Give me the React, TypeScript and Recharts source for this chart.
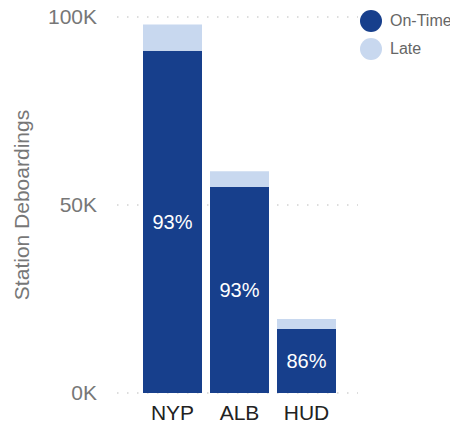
import { BarChart, Bar, XAxis, YAxis, CartesianGrid, Legend, LabelList } from 'recharts';

const stations = ['NYP', 'ALB', 'HUD'];
const onTime = [91000, 54800, 17000];
const late = [7000, 4200, 2700];
const yTicks = [0, 50000, 100000];

const ON_TIME_COLOR = '#173F8C';
const LATE_COLOR = '#C8D8EF';
const FONT = '"Liberation Sans", Arial, sans-serif';

const data = stations.map((s, i) => ({
  station: s,
  onTime: onTime[i],
  late: late[i],
  pct: Math.round((onTime[i] / (onTime[i] + late[i])) * 100) + '%',
}));

const legendItems = [
  { name: 'On-Time', color: ON_TIME_COLOR },
  { name: 'Late', color: LATE_COLOR },
];

function LegendContent() {
  return (
    <div style={{ fontFamily: FONT, fontSize: 16, color: '#666' }}>
      {legendItems.map((it) => (
        <div key={it.name} style={{ display: 'flex', alignItems: 'center', height: 28, whiteSpace: 'nowrap' }}>
          <svg width={22} height={22} style={{ marginRight: 8, flexShrink: 0 }}>
            <circle cx={11} cy={11} r={11} fill={it.color} />
          </svg>
          <span>{it.name}</span>
        </div>
      ))}
    </div>
  );
}

export default function App() {
  return (
    <div style={{ position: 'absolute', left: 0, top: 0, width: 450, height: 428, overflow: 'hidden' }}>
      <BarChart
        width={450}
        height={428}
        data={data}
        margin={{ top: 17, right: 92, bottom: 0, left: 0 }}
        barCategoryGap={4}
      >
        <CartesianGrid vertical={false} stroke="#bbb" strokeDasharray="1.5 8.5" />
        <XAxis
          dataKey="station"
          height={35}
          padding={{ left: 22, right: 18 }}
          axisLine={false}
          tickLine={false}
          tickSize={0}
          tickMargin={12}
          tick={{ fill: '#222', fontSize: 21, fontFamily: FONT }}
        />
        <YAxis
          width={117}
          domain={[0, 100000]}
          ticks={yTicks}
          interval={0}
          axisLine={false}
          tickLine={false}
          tickSize={0}
          tickMargin={20}
          tickFormatter={(v: number) => `${v / 1000}K`}
          tick={{ fill: '#777', fontSize: 21, fontFamily: FONT }}
          label={{
            value: 'Station Deboardings',
            angle: -90,
            position: 'insideLeft',
            dx: 17,
            style: { textAnchor: 'middle', fill: '#777', fontSize: 21, fontFamily: FONT },
          }}
        />
        <Legend
          content={<LegendContent />}
          wrapperStyle={{ position: 'absolute', left: 360, top: 7, width: 120, height: 0, overflow: 'visible' }}
        />
        <Bar dataKey="onTime" name="On-Time" stackId="a" fill={ON_TIME_COLOR} isAnimationActive={false}>
          <LabelList dataKey="pct" position="center" fill="#fff" fontSize={20} fontFamily={FONT} />
        </Bar>
        <Bar dataKey="late" name="Late" stackId="a" fill={LATE_COLOR} isAnimationActive={false} />
      </BarChart>
    </div>
  );
}
